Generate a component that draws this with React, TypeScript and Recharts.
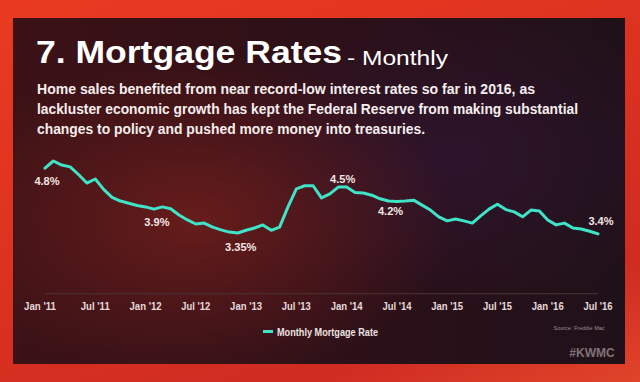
import React from 'react';
import { LineChart, Line, XAxis, YAxis, Legend, LabelList } from 'recharts';

// monthly categories, Jan '11 .. Jul '16
const monthNames = ['Jan', 'Feb', 'Mar', 'Apr', 'May', 'Jun', 'Jul', 'Aug', 'Sep', 'Oct', 'Nov', 'Dec'];
const years = ['11', '12', '13', '14', '15', '16'];
const periods: string[] = [];
years.forEach((y) => monthNames.forEach((m) => periods.push(`${m} '${y}`)));

// (30-yr fixed, monthly average, %)
const mortgageRate = [
  4.79, 4.95, 4.86, 4.82, 4.65, 4.46, 4.55, 4.32, 4.14, 4.06, 4.01, 3.96,
  3.93, 3.88, 3.93, 3.89, 3.75, 3.64, 3.55, 3.57, 3.48, 3.42, 3.37, 3.35,
  3.41, 3.46, 3.53, 3.41, 3.48, 3.93, 4.33, 4.40, 4.40, 4.13, 4.22, 4.37,
  4.37, 4.25, 4.24, 4.19, 4.11, 4.06, 4.05, 4.06, 4.08, 3.97, 3.86, 3.71,
  3.62, 3.66, 3.62, 3.57, 3.73, 3.88, 3.99, 3.87, 3.82, 3.71, 3.86, 3.84,
  3.64, 3.53, 3.57, 3.46, 3.44, 3.39, 3.33,
];

const tickLabels = ["Jan '11", "Jul '11", "Jan '12", "Jul '12", "Jan '13", "Jul '13", "Jan '14", "Jul '14", "Jan '15", "Jul '15", "Jan '16", "Jul '16"];

const calloutMonth = ["Jan '11", "Feb '12", "Dec '12", "Jan '14", "Jun '14", "Jul '16"];
const calloutText = ['4.8%', '3.9%', '3.35%', '4.5%', '4.2%', '3.4%'];

const data = mortgageRate.map((rate, i) => {
  const k = calloutMonth.indexOf(periods[i]);
  return { month: periods[i], rate, callout: k >= 0 ? calloutText[k] : null };
});

// where each callout sits relative to its point
const calloutOffset: Record<string, [number, number]> = {
  '4.8%': [2, 13],
  '3.9%': [3, 13],
  '3.35%': [3, 14],
  '4.5%': [-4, -8],
  '4.2%': [2, 10],
  '3.4%': [3, -13],
};

const narrow = "'Liberation Sans Narrow', 'Arial Narrow', 'Liberation Sans', Arial, sans-serif";
const teal = '#3fe3c8';

const renderCallout = (props: any) => {
  const { x, y, value } = props;
  if (!value) return null;
  const [dx, dy] = calloutOffset[value] || [0, 0];
  return (
    <text
      x={x + dx}
      y={y + dy}
      textAnchor="middle"
      dominantBaseline="central"
      fill="#f3e4e4"
      fontSize={11.5}
      fontWeight="bold"
      fontFamily={narrow}
      textLength={value.length * 6.3}
      lengthAdjust="spacingAndGlyphs"
    >
      {value}
    </text>
  );
};

const renderTick = (props: any) => {
  const { x, y, payload, index } = props;
  const label = payload.value as string;
  return (
    <text
      x={index === 0 ? x - 5 : x}
      y={y + 4}
      textAnchor="middle"
      dominantBaseline="central"
      fill="#e6dada"
      fontSize={11}
      fontWeight="bold"
      fontFamily={narrow}
      textLength={label.startsWith('Jan') ? 32 : 29}
      lengthAdjust="spacingAndGlyphs"
    >
      {label}
    </text>
  );
};

const renderLegend = () => (
  <svg width={150} height={16}>
    <rect x={1} y={6} width={10} height={3} fill={teal} />
    <text x={15} y={8} dominantBaseline="central" fill="#ece2e2" fontSize={11.5} fontWeight="bold" fontFamily={narrow} textLength={101} lengthAdjust="spacingAndGlyphs">
      Monthly Mortgage Rate
    </text>
  </svg>
);

export default function App() {
  return (
    <div style={{ position: 'absolute', left: 0, top: 0, width: 640, height: 382, overflow: 'hidden', background: 'linear-gradient(160deg, #ea3b22 0%, #dc3220 45%, #cf2c22 80%, #e0442a 100%)' }}>
      <div
        style={{
          position: 'absolute', left: 13, top: 18, width: 612, height: 346,
          background:
            'radial-gradient(ellipse 42% 48% at 30% 58%, rgba(112,30,28,0.85), rgba(112,30,28,0) 100%),' +
            'radial-gradient(ellipse 40% 45% at 72% 40%, rgba(48,22,52,0.7), rgba(48,22,52,0) 100%),' +
            'linear-gradient(90deg, #3c1216 0%, #2c1018 55%, #1f1119 100%)',
        }}
      />
      <LineChart
        width={640}
        height={382}
        data={data}
        margin={{ top: 149.75, right: 42, bottom: 58.25, left: 45 }}
        style={{ position: 'absolute', left: 0, top: 0 }}
      >
        <XAxis
          dataKey="month"
          ticks={tickLabels}
          interval={0}
          height={30}
          tickLine={false}
          axisLine={{ stroke: '#4a3434', strokeWidth: 1 }}
          tick={renderTick}
        />
        <YAxis hide domain={[2, 5.2]} type="number" allowDataOverflow />
        <Legend verticalAlign="middle" align="center" layout="horizontal" wrapperStyle={{ left: 262, top: 324, width: 150, height: 16 }} content={renderLegend} />
        <Line type="linear" dataKey="rate" name="Monthly Mortgage Rate" stroke={teal} strokeWidth={3} dot={false} isAnimationActive={false} strokeLinejoin="round" strokeLinecap="round">
          <LabelList dataKey="callout" content={renderCallout} />
        </Line>
      </LineChart>
      <svg width={640} height={382} style={{ position: 'absolute', left: 0, top: 0, pointerEvents: 'none' }}>
        <g fill="#ffffff">
          <text x={36} y={63} fontSize={31} fontWeight="bold" fontFamily="'Liberation Sans', Arial, sans-serif" textLength={306} lengthAdjust="spacingAndGlyphs">
            7. Mortgage Rates
          </text>
          <text x={347} y={65} fontSize={20} fontFamily="'Liberation Sans', Arial, sans-serif" textLength={101} lengthAdjust="spacingAndGlyphs">
            - Monthly
          </text>
          <g fontFamily={narrow} fontWeight="bold" fontSize={14} fill="#f6eeee">
            <text x={37} y={94} textLength={498} lengthAdjust="spacingAndGlyphs">
              Home sales benefited from near record-low interest rates so far in 2016, as
            </text>
            <text x={37} y={114} textLength={541} lengthAdjust="spacingAndGlyphs">
              lackluster economic growth has kept the Federal Reserve from making substantial
            </text>
            <text x={37} y={134} textLength={388} lengthAdjust="spacingAndGlyphs">
              changes to policy and pushed more money into treasuries.
            </text>
          </g>
        </g>
        <text x={579} y={330} textAnchor="middle" fontSize={5.5} fill="#9c8f90" fontFamily="'Liberation Sans', Arial, sans-serif">
          Source: Freddie Mac
        </text>
        <text x={592} y={357} textAnchor="middle" fontSize={12} fontWeight="bold" fill="#7f7274" fontFamily="'Liberation Sans', Arial, sans-serif">
          #KWMC
        </text>
      </svg>
    </div>
  );
}
